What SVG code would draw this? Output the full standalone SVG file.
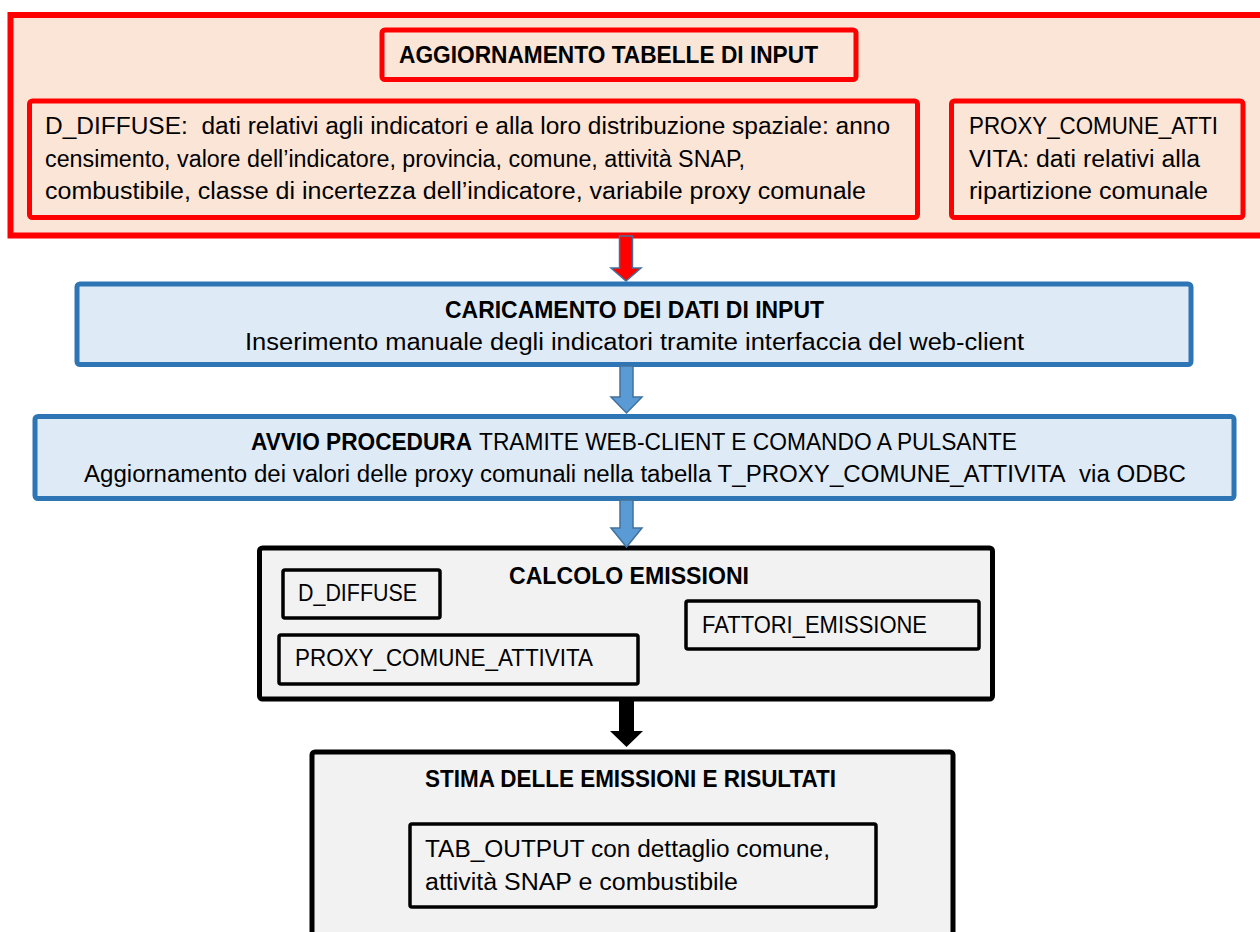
<svg xmlns="http://www.w3.org/2000/svg" width="1260" height="932" viewBox="0 0 1260 932">
<style>
.t{font-family:"Liberation Sans",Arial,sans-serif;font-size:23px;fill:#000}
.b{font-weight:bold}
.red{fill:#FBE5D6;stroke:#FF0000}
.blue{fill:#DEEBF7;stroke:#2E75B6;stroke-width:5}
.grey{fill:#F2F2F2;stroke:#000}
.abl{fill:#5B9BD5;stroke:#41719C;stroke-width:1.5}
</style>
<rect x="0" y="0" width="1260" height="932" fill="#fff"/>
<g id="input-tables">
<rect class="red" x="10.5" y="15" width="1270" height="220.5" stroke-width="6"/>
<g id="title-aggiornamento">
<rect class="red" x="382" y="30" width="474" height="49.5" rx="3" stroke-width="5"/>
<text class="t b" x="399" y="63" textLength="419" lengthAdjust="spacingAndGlyphs">AGGIORNAMENTO TABELLE DI INPUT</text>
</g>
<g id="d-diffuse">
<rect class="red" x="29.5" y="101" width="888" height="116.5" rx="3" stroke-width="5"/>
<text class="t" x="45" y="134" textLength="845" lengthAdjust="spacingAndGlyphs">D_DIFFUSE:&#160; dati relativi agli indicatori e alla loro distribuzione spaziale: anno</text>
<text class="t" x="45" y="166.5" textLength="700" lengthAdjust="spacingAndGlyphs">censimento, valore dell’indicatore, provincia, comune, attività SNAP,</text>
<text class="t" x="45" y="199" textLength="821" lengthAdjust="spacingAndGlyphs">combustibile, classe di incertezza dell’indicatore, variabile proxy comunale</text>
</g>
<g id="proxy-comune">
<rect class="red" x="951.5" y="101" width="291.5" height="116.5" rx="3" stroke-width="5"/>
<text class="t" x="969" y="134" textLength="249" lengthAdjust="spacingAndGlyphs">PROXY_COMUNE_ATTI</text>
<text class="t" x="969" y="166.5" textLength="231" lengthAdjust="spacingAndGlyphs">VITA: dati relativi alla</text>
<text class="t" x="969" y="199" textLength="239" lengthAdjust="spacingAndGlyphs">ripartizione comunale</text>
</g>
</g>
<g id="caricamento">
<rect class="blue" x="77" y="284" width="1114" height="80.5" rx="3"/>
<text class="t b" x="445" y="318" textLength="379" lengthAdjust="spacingAndGlyphs">CARICAMENTO DEI DATI DI INPUT</text>
<text class="t" x="245" y="350" textLength="779" lengthAdjust="spacingAndGlyphs">Inserimento manuale degli indicatori tramite interfaccia del web-client</text>
</g>
<g id="avvio">
<rect class="blue" x="35" y="416.5" width="1199" height="82" rx="3"/>
<text class="t b" x="251" y="450" textLength="221" lengthAdjust="spacingAndGlyphs">AVVIO PROCEDURA</text>
<text class="t" x="479" y="450" textLength="538" lengthAdjust="spacingAndGlyphs">TRAMITE WEB-CLIENT E COMANDO A PULSANTE</text>
<text class="t" x="84" y="482" textLength="1102" lengthAdjust="spacingAndGlyphs">Aggiornamento dei valori delle proxy comunali nella tabella T_PROXY_COMUNE_ATTIVITA&#160; via ODBC</text>
</g>
<g id="calcolo">
<rect class="grey" x="259.5" y="548" width="733" height="151" rx="3" stroke-width="5"/>
<text class="t b" x="509" y="584" textLength="240" lengthAdjust="spacingAndGlyphs">CALCOLO EMISSIONI</text>
<g id="calc-d-diffuse">
<rect class="grey" x="283" y="570" width="157" height="48" rx="2" stroke-width="3.5"/>
<text class="t" x="298" y="601" textLength="119" lengthAdjust="spacingAndGlyphs">D_DIFFUSE</text>
</g>
<g id="calc-fattori">
<rect class="grey" x="686" y="601" width="293" height="48" rx="2" stroke-width="3.5"/>
<text class="t" x="702" y="633" textLength="225" lengthAdjust="spacingAndGlyphs">FATTORI_EMISSIONE</text>
</g>
<g id="calc-proxy">
<rect class="grey" x="279" y="635" width="359" height="49" rx="2" stroke-width="3.5"/>
<text class="t" x="295" y="666" textLength="298" lengthAdjust="spacingAndGlyphs">PROXY_COMUNE_ATTIVITA</text>
</g>
</g>
<g id="stima">
<rect class="grey" x="312" y="752" width="641" height="200" rx="3" stroke-width="5"/>
<text class="t b" x="425" y="787" textLength="411" lengthAdjust="spacingAndGlyphs">STIMA DELLE EMISSIONI E RISULTATI</text>
<g id="tab-output">
<rect class="grey" x="410" y="824" width="466" height="83" rx="2" stroke-width="3.5"/>
<text class="t" x="425" y="857" textLength="405" lengthAdjust="spacingAndGlyphs">TAB_OUTPUT con dettaglio comune,</text>
<text class="t" x="425" y="890" textLength="313" lengthAdjust="spacingAndGlyphs">attività SNAP e combustibile</text>
</g>
</g>
<g id="connectors">
<path d="M619.5,236 H632.5 V268 H641 L626,281 L611,268 H619.5 Z" fill="#FF0000" stroke="#41719C" stroke-width="1.5"/>
<path class="abl" d="M620,366 H633 V397 H642 L626.5,413 L611,397 H620 Z"/>
<path class="abl" d="M620,500 H633 V528 H642 L626.5,547 L611,528 H620 Z"/>
<path d="M619,700 H634 V731 H643 L626.5,747 L610,731 H619 Z" fill="#000"/>
</g>
</svg>
